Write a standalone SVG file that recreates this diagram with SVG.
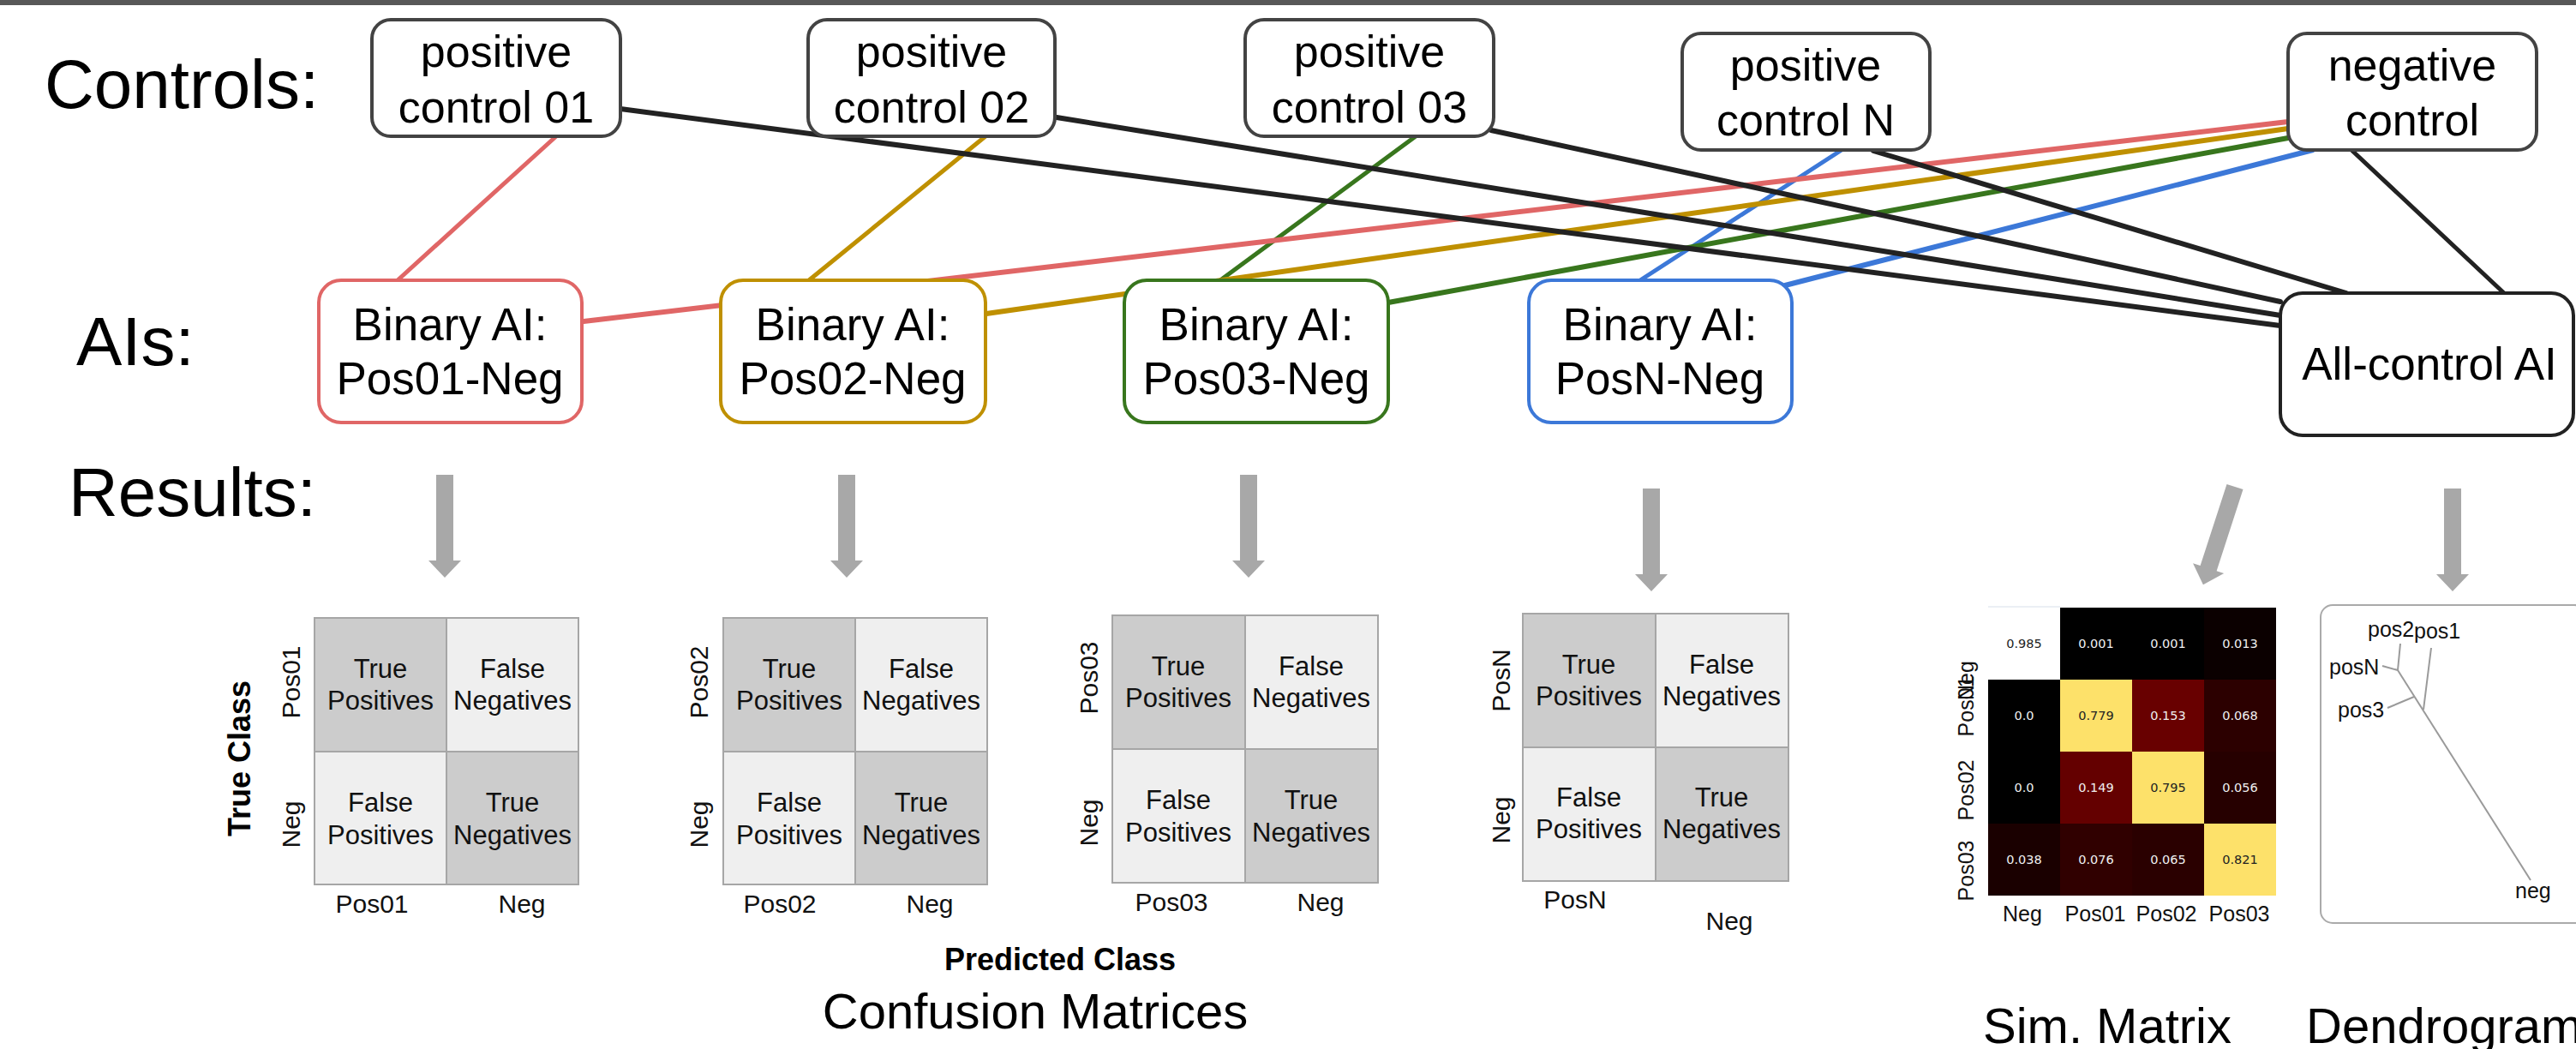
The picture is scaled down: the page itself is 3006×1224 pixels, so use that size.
<svg xmlns="http://www.w3.org/2000/svg" width="3006" height="1224" viewBox="0 0 3006 1224">
<style>
text{font-family:"Liberation Sans",Arial,sans-serif;fill:#000}
.lbl{font-size:80px}
.ctl{fill:#fff;stroke:#434343;stroke-width:4}
.ctt{font-size:52px;text-anchor:middle}
.ai{fill:#fff;stroke-width:4}
.ait{font-size:53px;text-anchor:middle}
.c{fill:none;stroke-width:6;stroke-linecap:round}
.t4{stroke-width:5}
.red{stroke:#e06666}.gold{stroke:#bf9000}.green{stroke:#38761d}.blue{stroke:#3c78d8}.blk{stroke:#222}
.arrow{fill:#a8a8a8}
.cd{fill:#cccccc;stroke:#a6a6a6;stroke-width:2}
.cl{fill:#efefef;stroke:#a6a6a6;stroke-width:2}
.cmt{font-size:31px;text-anchor:middle;fill:#111}
.axl{font-size:30px;text-anchor:middle;fill:#111}
.bold{font-size:36px;font-weight:bold;text-anchor:middle}
.cap{font-size:58px}
.smv{font-family:"DejaVu Sans",sans-serif;font-size:14.5px;text-anchor:middle;fill:#f0f0f0}
.smd{fill:#222}
.sml{font-size:25px;text-anchor:middle;fill:#111}
.dl{fill:none;stroke:#9a9a9a;stroke-width:2}
.dt{font-size:25px;fill:#111}
</style>
<defs>
<path id="garrow" d="M-10,0 H10 V100 H19 L0,120 L-19,100 H-10 Z"/>
</defs>
<rect x="0" y="0" width="3006" height="1224" fill="#fff"/>
<rect x="0" y="0" width="3006" height="6" fill="#585858"/>

<g id="row-labels">
<text class="lbl" x="52" y="126">Controls:</text>
<text class="lbl" x="89" y="426">AIs:</text>
<text class="lbl" x="80" y="602">Results:</text>
</g>

<g id="connectors">
<line class="c t4 red" x1="649" y1="159" x2="464" y2="327"/>
<line class="c t4 gold" x1="1150" y1="159" x2="944" y2="327"/>
<line class="c t4 green" x1="1652" y1="159" x2="1424" y2="327"/>
<line class="c t4 blue" x1="2149" y1="175" x2="1914" y2="327"/>
<line class="c red" x1="681" y1="375" x2="2670" y2="142"/>
<line class="c gold" x1="1151" y1="366" x2="2670" y2="150"/>
<line class="c green" x1="1620" y1="353" x2="2670" y2="161"/>
<line class="c blue" x1="2083" y1="333" x2="2699" y2="175"/>
<line class="c blk" x1="724" y1="127" x2="2661" y2="380"/>
<line class="c blk" x1="1233" y1="137" x2="2661" y2="368"/>
<line class="c blk" x1="1740" y1="152" x2="2661" y2="352"/>
<line class="c blk" x1="2186" y1="176" x2="2738" y2="342"/>
<line class="c t4 blk" x1="2744" y1="175" x2="2922" y2="342"/>
</g>

<g id="pc01"><rect class="ctl" x="434" y="23" width="290" height="136" rx="22"/>
<text class="ctt" x="579" y="78">positive</text><text class="ctt" x="579" y="143">control 01</text></g>
<g id="pc02"><rect class="ctl" x="943" y="23" width="288" height="136" rx="22"/>
<text class="ctt" x="1087" y="78">positive</text><text class="ctt" x="1087" y="143">control 02</text></g>
<g id="pc03"><rect class="ctl" x="1453" y="23" width="290" height="136" rx="22"/>
<text class="ctt" x="1598" y="78">positive</text><text class="ctt" x="1598" y="143">control 03</text></g>
<g id="pcN"><rect class="ctl" x="1963" y="39" width="289" height="136" rx="22"/>
<text class="ctt" x="2107" y="94">positive</text><text class="ctt" x="2107" y="158">control N</text></g>
<g id="neg"><rect class="ctl" x="2670" y="39" width="290" height="136" rx="22"/>
<text class="ctt" x="2815" y="94">negative</text><text class="ctt" x="2815" y="158">control</text></g>

<g id="ai01"><rect class="ai red" x="372" y="327" width="307" height="166" rx="26"/>
<text class="ait" x="525" y="397">Binary AI:</text><text class="ait" x="525" y="460">Pos01-Neg</text></g>
<g id="ai02"><rect class="ai gold" x="841" y="327" width="309" height="166" rx="26"/>
<text class="ait" x="995" y="397">Binary AI:</text><text class="ait" x="995" y="460">Pos02-Neg</text></g>
<g id="ai03"><rect class="ai green" x="1312" y="327" width="308" height="166" rx="26"/>
<text class="ait" x="1466" y="397">Binary AI:</text><text class="ait" x="1466" y="460">Pos03-Neg</text></g>
<g id="aiN"><rect class="ai blue" x="1784" y="327" width="307" height="166" rx="26"/>
<text class="ait" x="1937" y="397">Binary AI:</text><text class="ait" x="1937" y="460">PosN-Neg</text></g>
<g id="aiAll"><rect class="ai" stroke="#222" stroke-width="5" x="2661" y="342" width="342" height="166" rx="26"/>
<text class="ait" x="2835" y="443">All-control AI</text></g>

<g id="result-arrows" class="arrow">
<use href="#garrow" transform="translate(519,554)"/>
<use href="#garrow" transform="translate(988,554)"/>
<use href="#garrow" transform="translate(1457,554)"/>
<use href="#garrow" transform="translate(1927,570)"/>
<use href="#garrow" transform="translate(2608,568) rotate(18)"/>
<use href="#garrow" transform="translate(2862,570)"/>
</g>

<g id="cm01">
<rect class="cd" x="367" y="721" width="154" height="156"/><rect class="cl" x="521" y="721" width="154" height="156"/>
<rect class="cl" x="367" y="877" width="154" height="155"/><rect class="cd" x="521" y="877" width="154" height="155"/>
<text class="cmt" x="444" y="791">True</text><text class="cmt" x="444" y="828">Positives</text>
<text class="cmt" x="598" y="791">False</text><text class="cmt" x="598" y="828">Negatives</text>
<text class="cmt" x="444" y="947">False</text><text class="cmt" x="444" y="985">Positives</text>
<text class="cmt" x="598" y="947">True</text><text class="cmt" x="598" y="985">Negatives</text>
<text class="axl" transform="translate(350,796) rotate(-90)">Pos01</text>
<text class="axl" transform="translate(350,962) rotate(-90)">Neg</text>
<text class="axl" x="434" y="1065">Pos01</text><text class="axl" x="609" y="1065">Neg</text>
<text class="bold" transform="translate(292,885) rotate(-90)">True Class</text>
</g>
<g id="cm02">
<rect class="cd" x="844" y="721" width="154" height="156"/><rect class="cl" x="998" y="721" width="154" height="156"/>
<rect class="cl" x="844" y="877" width="154" height="155"/><rect class="cd" x="998" y="877" width="154" height="155"/>
<text class="cmt" x="921" y="791">True</text><text class="cmt" x="921" y="828">Positives</text>
<text class="cmt" x="1075" y="791">False</text><text class="cmt" x="1075" y="828">Negatives</text>
<text class="cmt" x="921" y="947">False</text><text class="cmt" x="921" y="985">Positives</text>
<text class="cmt" x="1075" y="947">True</text><text class="cmt" x="1075" y="985">Negatives</text>
<text class="axl" transform="translate(826,796) rotate(-90)">Pos02</text>
<text class="axl" transform="translate(826,962) rotate(-90)">Neg</text>
<text class="axl" x="910" y="1065">Pos02</text><text class="axl" x="1085" y="1065">Neg</text>
</g>
<g id="cm03">
<rect class="cd" x="1298" y="718" width="155" height="156"/><rect class="cl" x="1453" y="718" width="155" height="156"/>
<rect class="cl" x="1298" y="874" width="155" height="156"/><rect class="cd" x="1453" y="874" width="155" height="156"/>
<text class="cmt" x="1375" y="788">True</text><text class="cmt" x="1375" y="825">Positives</text>
<text class="cmt" x="1530" y="788">False</text><text class="cmt" x="1530" y="825">Negatives</text>
<text class="cmt" x="1375" y="944">False</text><text class="cmt" x="1375" y="982">Positives</text>
<text class="cmt" x="1530" y="944">True</text><text class="cmt" x="1530" y="982">Negatives</text>
<text class="axl" transform="translate(1281,791) rotate(-90)">Pos03</text>
<text class="axl" transform="translate(1281,960) rotate(-90)">Neg</text>
<text class="axl" x="1367" y="1063">Pos03</text><text class="axl" x="1541" y="1063">Neg</text>
</g>
<g id="cmN">
<rect class="cd" x="1777" y="716" width="155" height="156"/><rect class="cl" x="1932" y="716" width="155" height="156"/>
<rect class="cl" x="1777" y="872" width="155" height="156"/><rect class="cd" x="1932" y="872" width="155" height="156"/>
<text class="cmt" x="1854" y="786">True</text><text class="cmt" x="1854" y="823">Positives</text>
<text class="cmt" x="2009" y="786">False</text><text class="cmt" x="2009" y="823">Negatives</text>
<text class="cmt" x="1854" y="941">False</text><text class="cmt" x="1854" y="978">Positives</text>
<text class="cmt" x="2009" y="941">True</text><text class="cmt" x="2009" y="978">Negatives</text>
<text class="axl" transform="translate(1762,794) rotate(-90)">PosN</text>
<text class="axl" transform="translate(1762,957) rotate(-90)">Neg</text>
<text class="axl" x="1838" y="1060">PosN</text><text class="axl" x="2018" y="1085">Neg</text>
</g>
<g id="cm-captions">
<text class="bold" x="1237" y="1132">Predicted Class</text>
<text class="cap" x="1208" y="1200" text-anchor="middle">Confusion Matrices</text>
</g>

<g id="sim-matrix">
<rect x="2320" y="709" width="84" height="84" fill="#ffffff"/>
<rect x="2404" y="709" width="84" height="84" fill="#000000"/>
<rect x="2488" y="709" width="84" height="84" fill="#000000"/>
<rect x="2572" y="709" width="84" height="84" fill="#0b0000"/>
<rect x="2320" y="793" width="84" height="84" fill="#000000"/>
<rect x="2404" y="793" width="84" height="84" fill="#fde16a"/>
<rect x="2488" y="793" width="84" height="84" fill="#680000"/>
<rect x="2572" y="793" width="84" height="84" fill="#2c0000"/>
<rect x="2320" y="877" width="84" height="84" fill="#000000"/>
<rect x="2404" y="877" width="84" height="84" fill="#640000"/>
<rect x="2488" y="877" width="84" height="84" fill="#fde16a"/>
<rect x="2572" y="877" width="84" height="84" fill="#260000"/>
<rect x="2320" y="961" width="84" height="84" fill="#1a0000"/>
<rect x="2404" y="961" width="84" height="84" fill="#300000"/>
<rect x="2488" y="961" width="84" height="84" fill="#2a0000"/>
<rect x="2572" y="961" width="84" height="84" fill="#fde16a"/>
<line x1="2320" y1="708" x2="2404" y2="708" stroke="#e4eaf2" stroke-width="1.5"/>
<text class="smv smd" x="2362" y="756">0.985</text>
<text class="smv" x="2446" y="756">0.001</text>
<text class="smv" x="2530" y="756">0.001</text>
<text class="smv" x="2614" y="756">0.013</text>
<text class="smv" x="2362" y="840">0.0</text>
<text class="smv smd" x="2446" y="840">0.779</text>
<text class="smv" x="2530" y="840">0.153</text>
<text class="smv" x="2614" y="840">0.068</text>
<text class="smv" x="2362" y="924">0.0</text>
<text class="smv" x="2446" y="924">0.149</text>
<text class="smv smd" x="2530" y="924">0.795</text>
<text class="smv" x="2614" y="924">0.056</text>
<text class="smv" x="2362" y="1008">0.038</text>
<text class="smv" x="2446" y="1008">0.076</text>
<text class="smv" x="2530" y="1008">0.065</text>
<text class="smv smd" x="2614" y="1008">0.821</text>
<text class="sml" font-size="26" transform="translate(2303,794) rotate(-90)">Neg</text>
<text class="sml" font-size="26" transform="translate(2303,824) rotate(-90)">Pos01</text>
<text class="sml" font-size="26" transform="translate(2303,922) rotate(-90)">Pos02</text>
<text class="sml" font-size="26" transform="translate(2303,1016) rotate(-90)">Pos03</text>
<text class="sml" x="2360" y="1075">Neg</text>
<text class="sml" x="2445" y="1075">Pos01</text>
<text class="sml" x="2528" y="1075">Pos02</text>
<text class="sml" x="2613" y="1075">Pos03</text>
<text class="cap" x="2459" y="1217" text-anchor="middle">Sim. Matrix</text>
</g>

<g id="dendrogram">
<rect x="2708" y="706" width="310" height="371" rx="14" fill="#fff" stroke="#aaa" stroke-width="2"/>
<line class="dl" x1="2780" y1="777" x2="2798" y2="782"/>
<line class="dl" x1="2801" y1="751" x2="2798" y2="782"/>
<line class="dl" x1="2837" y1="756" x2="2828" y2="828"/>
<line class="dl" x1="2786" y1="826" x2="2817" y2="813"/>
<line class="dl" x1="2798" y1="782" x2="2953" y2="1027"/>
<text class="dt" x="2763" y="743">pos2</text>
<text class="dt" x="2817" y="745">pos1</text>
<text class="dt" x="2718" y="787">posN</text>
<text class="dt" x="2728" y="837">pos3</text>
<text class="dt" x="2935" y="1048">neg</text>
<text class="cap" x="2691" y="1217">Dendrogram</text>
</g>
</svg>
